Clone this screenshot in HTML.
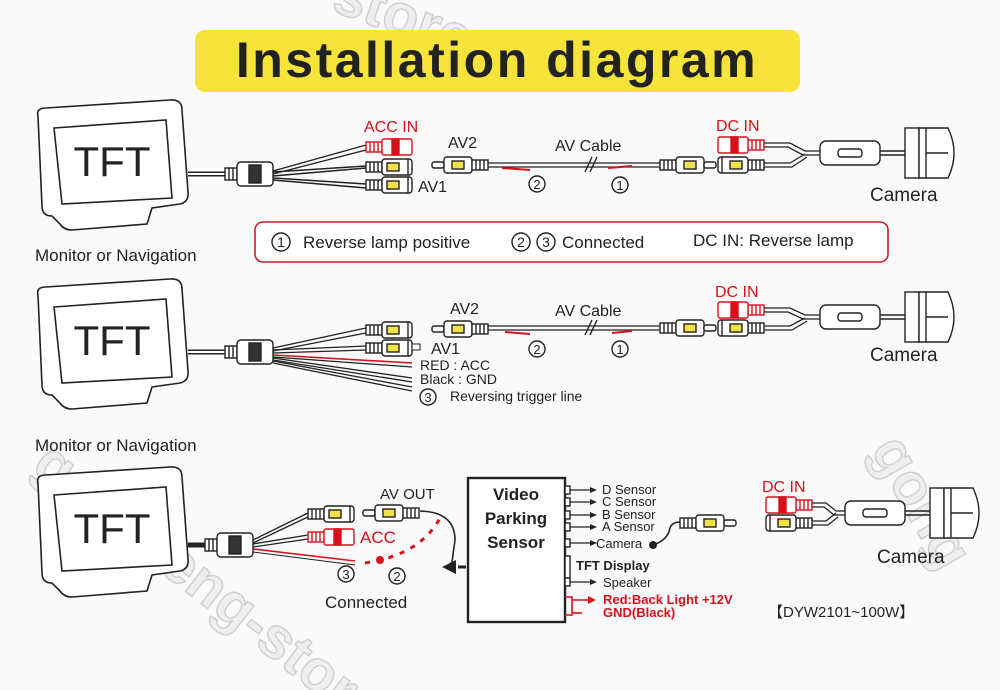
<!DOCTYPE html>
<html><head><meta charset="utf-8"><style>
html,body{margin:0;padding:0;background:#fafafa;width:1000px;height:690px;overflow:hidden;}
svg{display:block;}
text{font-family:"Liberation Sans",sans-serif;}
</style></head><body>
<svg width="1000" height="690" viewBox="0 0 1000 690" xmlns="http://www.w3.org/2000/svg">
<defs>
  <g id="fem" stroke="#222" stroke-width="1.4">
    <rect x="0" y="-5" width="16" height="10" fill="#fff"/>
    <line x1="4" y1="-5" x2="4" y2="5"/><line x1="8" y1="-5" x2="8" y2="5"/><line x1="12" y1="-5" x2="12" y2="5"/>
    <rect x="16" y="-8" width="30" height="16" rx="3" fill="#fff"/>
    <rect x="21" y="-4" width="12" height="8" fill="#f2e24a"/>
    <line x1="42" y1="-8" x2="42" y2="8"/>
  </g>
  <g id="femR" stroke="#d8101c" stroke-width="1.4">
    <rect x="0" y="-5" width="16" height="10" fill="#fff"/>
    <line x1="4" y1="-5" x2="4" y2="5"/><line x1="8" y1="-5" x2="8" y2="5"/><line x1="12" y1="-5" x2="12" y2="5"/>
    <rect x="16" y="-8" width="30" height="16" rx="2" fill="#fff"/>
    <rect x="26" y="-8" width="7" height="16" fill="#d8101c"/>
  </g>
  <g id="femL" stroke="#222" stroke-width="1.4">
    <rect x="30" y="-5" width="16" height="10" fill="#fff"/>
    <line x1="34" y1="-5" x2="34" y2="5"/><line x1="38" y1="-5" x2="38" y2="5"/><line x1="42" y1="-5" x2="42" y2="5"/>
    <rect x="0" y="-8" width="30" height="16" rx="3" fill="#fff"/>
    <rect x="12" y="-4" width="12" height="8" fill="#f2e24a"/>
    <line x1="4" y1="-8" x2="4" y2="8"/>
  </g>
  <g id="femLR" stroke="#d8101c" stroke-width="1.4">
    <rect x="30" y="-5" width="16" height="10" fill="#fff"/>
    <line x1="34" y1="-5" x2="34" y2="5"/><line x1="38" y1="-5" x2="38" y2="5"/><line x1="42" y1="-5" x2="42" y2="5"/>
    <rect x="0" y="-8" width="30" height="16" rx="2" fill="#fff"/>
    <rect x="13" y="-8" width="7" height="16" fill="#d8101c"/>
  </g>
  <g id="male" stroke="#222" stroke-width="1.4">
    <rect x="0" y="-3" width="12" height="6" rx="2" fill="#fff"/>
    <rect x="12" y="-8" width="28" height="16" rx="3" fill="#fff"/>
    <rect x="20" y="-4" width="12" height="8" fill="#f2e24a"/>
    <rect x="40" y="-5" width="16" height="10" fill="#fff"/>
    <line x1="44" y1="-5" x2="44" y2="5"/><line x1="48" y1="-5" x2="48" y2="5"/><line x1="52" y1="-5" x2="52" y2="5"/>
  </g>
  <g id="malerev" stroke="#222" stroke-width="1.4">
    <rect x="0" y="-5" width="16" height="10" fill="#fff"/>
    <line x1="4" y1="-5" x2="4" y2="5"/><line x1="8" y1="-5" x2="8" y2="5"/><line x1="12" y1="-5" x2="12" y2="5"/>
    <rect x="16" y="-8" width="28" height="16" rx="3" fill="#fff"/>
    <rect x="24" y="-4" width="12" height="8" fill="#f2e24a"/>
    <rect x="44" y="-3" width="12" height="6" rx="2" fill="#fff"/>
  </g>
  <g id="hub" stroke="#222" stroke-width="1.4" fill="#fff">
    <rect x="0" y="-6" width="12" height="12"/>
    <line x1="4" y1="-6" x2="4" y2="6"/><line x1="8" y1="-6" x2="8" y2="6"/>
    <rect x="12" y="-12" width="36" height="24" rx="4"/>
    <rect x="24" y="-9" width="12" height="18" fill="#333"/>
  </g>
  <g id="cam" stroke="#222" stroke-width="1.4" fill="#fff">
    <rect x="0" y="-12" width="60" height="24" rx="6"/>
    <rect x="18" y="-4" width="24" height="8" rx="3"/>
    <line x1="60" y1="-2" x2="85" y2="-2"/><line x1="60" y1="2" x2="85" y2="2"/>
    <rect x="85" y="-25" width="14" height="50"/>
    <path d="M99,-25 L128,-25 Q140,0 128,25 L99,25 Z"/>
    <line x1="106" y1="-25" x2="106" y2="25"/>
    <line x1="106" y1="0" x2="128" y2="0"/>
  </g>
  <g id="mon" stroke="#222" stroke-width="1.6" fill="#fff">
    <path d="M6,10 Q4,2 14,2 L138,-6 Q150,-7 150,4 L156,86 Q157,96 148,98 L120,102 L115,118 L40,124 Q32,124 28,118 L20,110 Q10,110 10,100 Z"/>
    <path d="M22,22 L134,14 L140,92 L30,98 Z"/>
  </g>
</defs>

<!-- watermarks -->
<g font-weight="bold" font-size="58" fill="#efefef" stroke="#d0d0d0" stroke-width="1.5">
  <text x="30" y="470" transform="rotate(38 30 470)">gongteng-store</text>
  <text x="330" y="10" transform="rotate(20 330 10)">store</text>
  <text x="870" y="450" transform="rotate(60 870 450)">gong</text>
</g>

<!-- title -->
<rect x="195" y="30" width="605" height="62" rx="10" fill="#f7e43a"/>
<text x="497" y="77" text-anchor="middle" font-size="50" font-weight="bold" fill="#222" letter-spacing="2.5">Installation diagram</text>

<!-- ===== Section 1 ===== -->
<use href="#mon" x="32" y="106"/>
<text x="112" y="176" text-anchor="middle" font-size="42" fill="#222">TFT</text>
<text x="35" y="261" font-size="17" fill="#222">Monitor or Navigation</text>
<line x1="188" y1="174" x2="225" y2="174" stroke="#222" stroke-width="5"/>
<line x1="188" y1="174" x2="225" y2="174" stroke="#fff" stroke-width="2"/>
<use href="#hub" x="225" y="174"/>
<g stroke="#222" stroke-width="1.4" fill="none">
  <path d="M273,171 L366,145"/><path d="M273,174 L366,150"/>
  <path d="M273,172 L366,166"/><path d="M273,176 L366,168"/>
  <path d="M273,178 L366,184"/><path d="M273,180 L366,188"/>
</g>
<use href="#femR" x="366" y="147"/>
<use href="#fem" x="366" y="167"/>
<use href="#fem" x="366" y="185"/>
<text x="364" y="132" font-size="16" fill="#d8101c">ACC IN</text>
<text x="418" y="192" font-size="16" fill="#222">AV1</text>
<text x="448" y="148" font-size="16" fill="#222">AV2</text>
<use href="#male" x="432" y="165"/>
<g stroke="#222" stroke-width="1.3">
  <line x1="488" y1="163" x2="670" y2="163"/><line x1="488" y1="167" x2="670" y2="167"/>
</g>
<line x1="502" y1="168" x2="530" y2="170" stroke="#d8101c" stroke-width="2"/>
<line x1="608" y1="168" x2="632" y2="166" stroke="#d8101c" stroke-width="2"/>
<g stroke="#222" stroke-width="1.4"><line x1="585" y1="172" x2="592" y2="157"/><line x1="590" y1="172" x2="597" y2="157"/></g>
<text x="555" y="151" font-size="16" fill="#222">AV Cable</text>
<use href="#malerev" x="660" y="165"/>
<use href="#femLR" x="718" y="145"/>
<use href="#femL" x="718" y="165"/>
<g stroke="#222" stroke-width="1.3" fill="none">
  <path d="M764,143 L790,143 L805,151 L820,151"/><path d="M764,147 L788,147 L803,155 L820,155"/>
  <path d="M764,163 L790,163 L805,154"/><path d="M764,167 L792,167 L807,157"/>
</g>
<use href="#cam" x="820" y="153"/>
<text x="716" y="131" font-size="16" fill="#d8101c">DC IN</text>
<text x="870" y="201" font-size="19" fill="#222">Camera</text>
<g stroke="#222" stroke-width="1.4">
  <circle cx="537" cy="184" r="8" fill="none"/><circle cx="620" cy="185" r="8" fill="none"/>
</g>
<text x="537" y="189" text-anchor="middle" font-size="13" fill="#222">2</text>
<text x="620" y="190" text-anchor="middle" font-size="13" fill="#222">1</text>

<rect x="255" y="222" width="633" height="40" rx="8" fill="#fff" stroke="#c81e2c" stroke-width="1.6"/>
<g stroke="#222" stroke-width="1.4" fill="none">
  <circle cx="281" cy="242" r="9"/><circle cx="521" cy="242" r="9"/><circle cx="546" cy="242" r="9"/>
</g>
<g font-size="14" fill="#222" text-anchor="middle"><text x="281" y="247">1</text><text x="521" y="247">2</text><text x="546" y="247">3</text></g>
<text x="303" y="248" font-size="17" fill="#222">Reverse lamp positive</text>
<text x="562" y="248" font-size="17" fill="#222">Connected</text>
<text x="693" y="246" font-size="17" fill="#222">DC IN: Reverse lamp</text>

<!-- ===== Section 2 ===== -->
<use href="#mon" x="32" y="285"/>
<text x="112" y="355" text-anchor="middle" font-size="42" fill="#222">TFT</text>
<text x="35" y="451" font-size="17" fill="#222">Monitor or Navigation</text>
<line x1="188" y1="352" x2="225" y2="352" stroke="#222" stroke-width="5"/>
<line x1="188" y1="352" x2="225" y2="352" stroke="#fff" stroke-width="2"/>
<use href="#hub" x="225" y="352"/>
<g stroke="#222" stroke-width="1.3" fill="none">
  <path d="M273,348 L366,328"/><path d="M273,351 L366,333"/>
  <path d="M273,350 L366,346"/><path d="M273,353 L366,350"/>
  <path d="M273,358 L412,378"/><path d="M273,360 L412,382"/>
  <path d="M273,361 L412,387"/><path d="M273,363 L412,391"/>
</g>
<path d="M273,355 L412,363" stroke="#d8101c" stroke-width="1.6"/>
<path d="M273,357 L412,367" stroke="#222" stroke-width="1.2"/>
<use href="#fem" x="366" y="330"/>
<use href="#fem" x="366" y="348"/>
<rect x="412" y="344" width="8" height="6" fill="#fff" stroke="#222"/>
<text x="431" y="354" font-size="16" fill="#222">AV1</text>
<text x="420" y="370" font-size="14" fill="#222">RED : ACC</text>
<text x="420" y="384" font-size="14" fill="#222">Black : GND</text>
<circle cx="428" cy="397" r="8" fill="none" stroke="#222" stroke-width="1.4"/>
<text x="428" y="402" text-anchor="middle" font-size="13" fill="#222">3</text>
<text x="450" y="401" font-size="14" fill="#222">Reversing trigger line</text>
<text x="450" y="314" font-size="16" fill="#222">AV2</text>
<use href="#male" x="432" y="329"/>
<g stroke="#222" stroke-width="1.3">
  <line x1="488" y1="326" x2="670" y2="326"/><line x1="488" y1="330" x2="670" y2="330"/>
</g>
<line x1="505" y1="332" x2="530" y2="334" stroke="#d8101c" stroke-width="2"/>
<line x1="612" y1="333" x2="632" y2="331" stroke="#d8101c" stroke-width="2"/>
<g stroke="#222" stroke-width="1.4"><line x1="585" y1="335" x2="592" y2="320"/><line x1="590" y1="335" x2="597" y2="320"/></g>
<text x="555" y="316" font-size="16" fill="#222">AV Cable</text>
<circle cx="537" cy="349" r="8" fill="none" stroke="#222" stroke-width="1.4"/>
<circle cx="620" cy="349" r="8" fill="none" stroke="#222" stroke-width="1.4"/>
<text x="537" y="354" text-anchor="middle" font-size="13" fill="#222">2</text>
<text x="620" y="354" text-anchor="middle" font-size="13" fill="#222">1</text>
<use href="#malerev" x="660" y="328"/>
<use href="#femLR" x="718" y="310"/>
<use href="#femL" x="718" y="328"/>
<g stroke="#222" stroke-width="1.3" fill="none">
  <path d="M764,308 L790,308 L805,315 L820,315"/><path d="M764,312 L788,312 L803,319 L820,319"/>
  <path d="M764,326 L790,326 L805,318"/><path d="M764,330 L792,330 L807,321"/>
</g>
<use href="#cam" x="820" y="317"/>
<text x="715" y="297" font-size="16" fill="#d8101c">DC IN</text>
<text x="870" y="361" font-size="19" fill="#222">Camera</text>

<!-- ===== Section 3 ===== -->
<use href="#mon" x="32" y="473"/>
<text x="112" y="543" text-anchor="middle" font-size="42" fill="#222">TFT</text>
<line x1="188" y1="545" x2="205" y2="545" stroke="#222" stroke-width="5"/>
<use href="#hub" x="205" y="545"/>
<g stroke="#222" stroke-width="1.3" fill="none">
  <path d="M253,540 L310,512"/><path d="M253,543 L310,516"/>
  <path d="M253,544 L308,535"/><path d="M253,547 L308,539"/>
</g>
<path d="M253,549 L355,561" stroke="#d8101c" stroke-width="1.6"/>
<path d="M253,552 L355,565" stroke="#222" stroke-width="1"/>
<use href="#fem" x="308" y="514"/>
<use href="#femR" x="308" y="537"/>
<text x="360" y="543" font-size="17" fill="#d8101c">ACC</text>
<text x="380" y="499" font-size="15" fill="#222">AV OUT</text>
<use href="#male" x="363" y="513"/>
<path d="M420,511 Q455,512 455,540 L452,562" stroke="#222" stroke-width="1.6" fill="none"/>
<circle cx="452" cy="565" r="3" fill="#222"/>
<path d="M365,563 Q420,555 440,518" stroke="#d8101c" stroke-width="3" fill="none" stroke-dasharray="5 7"/>
<circle cx="380" cy="560" r="4" fill="#d8101c"/>
<circle cx="346" cy="574" r="8" fill="none" stroke="#222" stroke-width="1.4"/>
<circle cx="397" cy="576" r="8" fill="none" stroke="#222" stroke-width="1.4"/>
<text x="346" y="579" text-anchor="middle" font-size="13" fill="#222">3</text>
<text x="397" y="581" text-anchor="middle" font-size="13" fill="#222">2</text>
<text x="325" y="608" font-size="17" fill="#222">Connected</text>
<line x1="458" y1="567" x2="563" y2="567" stroke="#222" stroke-width="3" stroke-dasharray="8 6"/>
<path d="M442,567 L456,560 L456,574 Z" fill="#222"/>

<rect x="468" y="478" width="97" height="144" fill="#fff" stroke="#222" stroke-width="2.4"/>
<g font-size="17" font-weight="bold" fill="#222" text-anchor="middle">
  <text x="516" y="500">Video</text><text x="516" y="524">Parking</text><text x="516" y="548">Sensor</text>
</g>
<g stroke="#222" stroke-width="1.4" fill="#fff">
  <rect x="565" y="486" width="5" height="8"/><rect x="565" y="498" width="5" height="8"/>
  <rect x="565" y="511" width="5" height="8"/><rect x="565" y="523" width="5" height="8"/>
  <rect x="565" y="539" width="5" height="8"/><rect x="565" y="556" width="5" height="22"/>
  <rect x="565" y="578" width="5" height="8"/>
</g>
<g stroke="#222" stroke-width="1.3">
  <line x1="570" y1="490" x2="590" y2="490"/><line x1="570" y1="502" x2="590" y2="502"/>
  <line x1="570" y1="515" x2="590" y2="515"/><line x1="570" y1="527" x2="590" y2="527"/>
  <line x1="570" y1="543" x2="590" y2="543"/><line x1="570" y1="582" x2="590" y2="582"/>
</g>
<g fill="#222">
  <path d="M590,487 L597,490 L590,493Z"/><path d="M590,499 L597,502 L590,505Z"/>
  <path d="M590,512 L597,515 L590,518Z"/><path d="M590,524 L597,527 L590,530Z"/>
  <path d="M590,540 L597,543 L590,546Z"/><path d="M590,579 L597,582 L590,585Z"/>
</g>
<g font-size="13" fill="#222">
  <text x="602" y="494">D  Sensor</text><text x="602" y="506">C  Sensor</text>
  <text x="602" y="519">B  Sensor</text><text x="602" y="531">A  Sensor</text>
  <text x="596" y="548">Camera</text><text x="603" y="587">Speaker</text>
</g>
<text x="576" y="570" font-size="13" font-weight="bold" fill="#222">TFT Display</text>
<g stroke="#d8101c" stroke-width="1.6" fill="none">
  <path d="M565,597 L572,597 L572,615 L565,615"/><line x1="572" y1="600" x2="590" y2="600"/><line x1="572" y1="613" x2="582" y2="613"/>
</g>
<path d="M588,596 L596,600 L588,604Z" fill="#d8101c"/>
<g font-size="13" font-weight="bold" fill="#d8101c">
  <text x="603" y="604">Red:Back Light  +12V</text><text x="603" y="617">GND(Black)</text>
</g>
<circle cx="653" cy="545" r="4" fill="#222"/>
<path d="M653,545 Q668,540 670,528 Q672,522 680,522" stroke="#222" stroke-width="1.6" fill="none"/>
<use href="#malerev" x="680" y="523"/>
<use href="#femLR" x="766" y="505"/>
<use href="#femL" x="766" y="523"/>
<g stroke="#222" stroke-width="1.3" fill="none">
  <path d="M812,503 L826,503 L836,511 L845,511"/><path d="M812,507 L824,507 L834,515 L845,515"/>
  <path d="M812,521 L826,521 L836,513"/><path d="M812,525 L828,525 L838,517"/>
</g>
<use href="#cam" x="845" y="513"/>
<text x="762" y="492" font-size="16" fill="#d8101c">DC IN</text>
<text x="877" y="563" font-size="19" fill="#222">Camera</text>
<text x="768" y="617" font-size="15" fill="#222">【DYW2101~100W】</text>
</svg>
</body></html>
